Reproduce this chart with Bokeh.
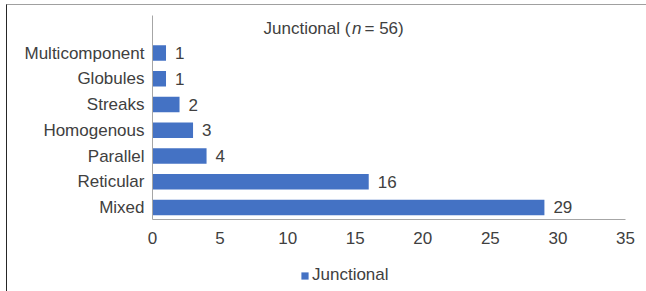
from bokeh.plotting import figure
from bokeh.layouts import column
from bokeh.models import (ColumnDataSource, Label, Legend, LegendItem,
                          FixedTicker, Range1d)
from bokeh.embed import file_html
from bokeh.resources import INLINE

# ---- data (bottom to top, as in the chart) ----
categories = ["Mixed", "Reticular", "Parallel", "Homogenous", "Streaks",
              "Globules", "Multicomponent"]
counts = [29, 16, 4, 3, 2, 1, 1]
x_ticks = [0, 5, 10, 15, 20, 25, 30, 35]
series_name = "Junctional"
title_parts = ["Junctional (", "n", " = 56)"]

positions = list(range(len(categories)))
source = ColumnDataSource(dict(
    y=positions,
    count=counts,
    cat=categories,
    label=[str(c) for c in counts],
))

FONT = "Liberation Sans"
TXT = "#404040"
AX = "#A6A6A6"
BLUE = "#4472C4"

W, H1, H2 = 639, 254, 32
p = figure(width=W, height=H1, output_backend="svg", toolbar_location=None,
           x_range=Range1d(0, 35), y_range=Range1d(-0.467, 7.46),
           min_border_left=145, min_border_right=21,
           min_border_top=10, min_border_bottom=40)
p.background_fill_color = "white"
p.border_fill_color = "white"
p.outline_line_color = None
p.grid.visible = False

r = p.hbar(y="y", right="count", left=0, height=0.6, source=source,
           fill_color=BLUE, line_color=None)

p.text(x="count", y="y", text="label", source=source, x_offset=9,
       text_align="left", text_baseline="middle", text_font_size="17px",
       text_color=TXT, text_font={"value": FONT})

# x axis
xa = p.xaxis[0]
xa.ticker = FixedTicker(ticks=x_ticks)
xa.axis_line_color = AX
xa.major_tick_line_color = None
xa.minor_tick_line_color = None
xa.major_tick_out = 0
xa.major_tick_in = 0
xa.major_label_standoff = 12
xa.major_label_text_font_size = "17px"
xa.major_label_text_font = FONT
xa.major_label_text_color = TXT

# y axis with category names
ya = p.yaxis[0]
ya.ticker = FixedTicker(ticks=positions)
ya.major_label_overrides = {i: c for i, c in zip(positions, categories)}
ya.axis_line_color = AX
ya.major_tick_line_color = None
ya.minor_tick_line_color = None
ya.major_tick_out = 0
ya.major_tick_in = 0
ya.major_label_standoff = 8
ya.major_label_text_font_size = "17px"
ya.major_label_text_font = FONT
ya.major_label_text_color = TXT

# title made of parts (italic n)
tx = 263 - 152
xs = [tx, tx + 88.5, tx + 101]
styles = ["normal", "italic", "normal"]
for part, xo, st in zip(title_parts, xs, styles):
    p.add_layout(Label(x=xo, y=191, x_units="screen", y_units="screen",
                       text=part, text_font=FONT, text_font_size="17px",
                       text_font_style=st, text_color=TXT,
                       text_baseline="middle", text_align="left"))

# legend strip below the chart (its renderer is hidden; only the key shows)
p2 = figure(width=W, height=H2, output_backend="svg", toolbar_location=None,
            x_axis_type=None, y_axis_type=None,
            x_range=Range1d(0, 35), y_range=Range1d(-0.5, 6.5),
            min_border_left=0, min_border_right=0,
            min_border_top=0, min_border_bottom=0)
p2.outline_line_color = None
p2.grid.visible = False
p2.background_fill_color = "white"
p2.border_fill_color = "white"
r2 = p2.hbar(y="y", right="count", left=0, height=0.6, source=source,
             fill_color=BLUE, line_color=None)
r2.visible = False
legend = Legend(items=[LegendItem(label=series_name, renderers=[r2])],
                location=(148, 6), orientation="horizontal",
                padding=0, margin=0, spacing=0, border_line_color=None,
                background_fill_alpha=0, glyph_width=9, glyph_height=9,
                label_standoff=3, label_text_font=FONT,
                label_text_font_size="17px", label_text_color=TXT,
                label_height=20, inactive_fill_alpha=0)
p2.add_layout(legend, "center")

layout = column(p, p2, spacing=0, margin=(4, 0, 0, 6),
                styles={"border-top": "1px solid #A0A0A0",
                        "border-left": "1px solid #262626"})

open("out.html", "w").write(file_html(layout, INLINE))
